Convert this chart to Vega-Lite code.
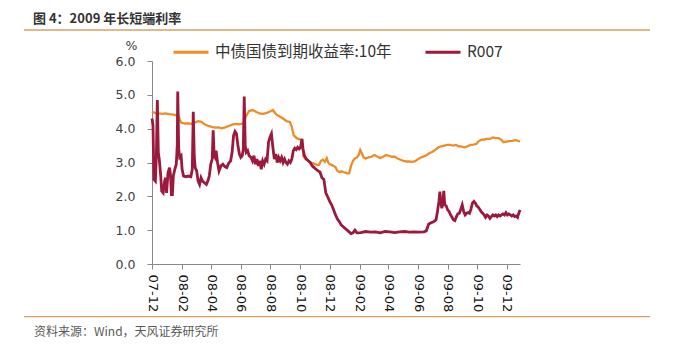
{
  "$schema": "https://vega.github.io/schema/vega-lite/v6.json",
  "width": 368,
  "height": 203,
  "autosize": {"type": "none"},
  "padding": {"left": 152, "top": 61, "right": 172, "bottom": 86},
  "background": "white",
  "title": {
    "text": "图 4：2009 年长短端利率",
    "anchor": "start",
    "frame": "group",
    "dx": -119,
    "offset": 3,
    "font": "Noto Sans CJK SC",
    "fontSize": 13,
    "fontWeight": "bold",
    "color": "#333333"
  },
  "datasets": {
    "cn10y": [
      {"date": "2007-12-01", "value": 4.50}, {"date": "2007-12-08", "value": 4.46}, {"date": "2007-12-15", "value": 4.45},
      {"date": "2007-12-22", "value": 4.44}, {"date": "2007-12-29", "value": 4.45}, {"date": "2008-01-05", "value": 4.43},
      {"date": "2008-01-12", "value": 4.42}, {"date": "2008-01-19", "value": 4.40}, {"date": "2008-01-24", "value": 4.41},
      {"date": "2008-01-27", "value": 4.28}, {"date": "2008-01-30", "value": 4.18}, {"date": "2008-02-06", "value": 4.15},
      {"date": "2008-02-13", "value": 4.16}, {"date": "2008-02-20", "value": 4.14}, {"date": "2008-02-27", "value": 4.18},
      {"date": "2008-03-05", "value": 4.22}, {"date": "2008-03-12", "value": 4.20}, {"date": "2008-03-19", "value": 4.12},
      {"date": "2008-03-26", "value": 4.08}, {"date": "2008-04-02", "value": 4.05}, {"date": "2008-04-09", "value": 4.03},
      {"date": "2008-04-16", "value": 4.04}, {"date": "2008-04-23", "value": 4.01}, {"date": "2008-04-30", "value": 4.04},
      {"date": "2008-05-07", "value": 4.08}, {"date": "2008-05-14", "value": 4.12}, {"date": "2008-05-21", "value": 4.14},
      {"date": "2008-05-28", "value": 4.13}, {"date": "2008-06-04", "value": 4.15}, {"date": "2008-06-08", "value": 4.20},
      {"date": "2008-06-11", "value": 4.35}, {"date": "2008-06-15", "value": 4.45}, {"date": "2008-06-18", "value": 4.52},
      {"date": "2008-06-25", "value": 4.55}, {"date": "2008-07-02", "value": 4.50}, {"date": "2008-07-09", "value": 4.45},
      {"date": "2008-07-16", "value": 4.44}, {"date": "2008-07-23", "value": 4.46}, {"date": "2008-07-30", "value": 4.50},
      {"date": "2008-08-06", "value": 4.55}, {"date": "2008-08-13", "value": 4.42}, {"date": "2008-08-20", "value": 4.36},
      {"date": "2008-08-27", "value": 4.30}, {"date": "2008-09-03", "value": 4.22}, {"date": "2008-09-10", "value": 4.20},
      {"date": "2008-09-14", "value": 4.05}, {"date": "2008-09-18", "value": 3.80}, {"date": "2008-09-24", "value": 3.72},
      {"date": "2008-10-01", "value": 3.68}, {"date": "2008-10-05", "value": 3.62}, {"date": "2008-10-08", "value": 3.18},
      {"date": "2008-10-12", "value": 3.10}, {"date": "2008-10-16", "value": 3.08}, {"date": "2008-10-20", "value": 3.02},
      {"date": "2008-10-24", "value": 2.98}, {"date": "2008-10-28", "value": 2.98}, {"date": "2008-11-01", "value": 2.95},
      {"date": "2008-11-05", "value": 2.93}, {"date": "2008-11-09", "value": 2.93}, {"date": "2008-11-13", "value": 3.05},
      {"date": "2008-11-17", "value": 3.08}, {"date": "2008-11-21", "value": 3.02}, {"date": "2008-11-25", "value": 3.13},
      {"date": "2008-11-28", "value": 3.00}, {"date": "2008-12-01", "value": 2.95}, {"date": "2008-12-05", "value": 2.93},
      {"date": "2008-12-09", "value": 2.90}, {"date": "2008-12-13", "value": 2.86}, {"date": "2008-12-17", "value": 2.75},
      {"date": "2008-12-21", "value": 2.72}, {"date": "2008-12-25", "value": 2.74}, {"date": "2008-12-29", "value": 2.72},
      {"date": "2009-01-02", "value": 2.70}, {"date": "2009-01-06", "value": 2.68}, {"date": "2009-01-10", "value": 2.68},
      {"date": "2009-01-14", "value": 2.90}, {"date": "2009-01-18", "value": 3.05}, {"date": "2009-01-22", "value": 3.12},
      {"date": "2009-01-26", "value": 3.15}, {"date": "2009-01-30", "value": 3.22}, {"date": "2009-02-02", "value": 3.37},
      {"date": "2009-02-05", "value": 3.28}, {"date": "2009-02-09", "value": 3.15}, {"date": "2009-02-13", "value": 3.12},
      {"date": "2009-02-19", "value": 3.15}, {"date": "2009-02-25", "value": 3.17}, {"date": "2009-03-03", "value": 3.22},
      {"date": "2009-03-09", "value": 3.18}, {"date": "2009-03-15", "value": 3.13}, {"date": "2009-03-21", "value": 3.17},
      {"date": "2009-03-27", "value": 3.22}, {"date": "2009-04-02", "value": 3.20}, {"date": "2009-04-08", "value": 3.17},
      {"date": "2009-04-14", "value": 3.17}, {"date": "2009-04-20", "value": 3.12}, {"date": "2009-04-26", "value": 3.08},
      {"date": "2009-05-02", "value": 3.05}, {"date": "2009-05-08", "value": 3.03}, {"date": "2009-05-14", "value": 3.03},
      {"date": "2009-05-20", "value": 3.02}, {"date": "2009-05-26", "value": 3.04}, {"date": "2009-06-01", "value": 3.10},
      {"date": "2009-06-07", "value": 3.15}, {"date": "2009-06-13", "value": 3.18}, {"date": "2009-06-19", "value": 3.22},
      {"date": "2009-06-25", "value": 3.28}, {"date": "2009-07-01", "value": 3.32}, {"date": "2009-07-07", "value": 3.38},
      {"date": "2009-07-13", "value": 3.45}, {"date": "2009-07-19", "value": 3.48}, {"date": "2009-07-25", "value": 3.50},
      {"date": "2009-07-31", "value": 3.52}, {"date": "2009-08-06", "value": 3.52}, {"date": "2009-08-12", "value": 3.50},
      {"date": "2009-08-18", "value": 3.52}, {"date": "2009-08-24", "value": 3.48}, {"date": "2009-08-30", "value": 3.47},
      {"date": "2009-09-05", "value": 3.45}, {"date": "2009-09-11", "value": 3.48}, {"date": "2009-09-17", "value": 3.52},
      {"date": "2009-09-23", "value": 3.53}, {"date": "2009-09-29", "value": 3.55}, {"date": "2009-10-03", "value": 3.62},
      {"date": "2009-10-09", "value": 3.67}, {"date": "2009-10-15", "value": 3.68}, {"date": "2009-10-21", "value": 3.70},
      {"date": "2009-10-27", "value": 3.70}, {"date": "2009-11-02", "value": 3.74}, {"date": "2009-11-08", "value": 3.72},
      {"date": "2009-11-14", "value": 3.72}, {"date": "2009-11-20", "value": 3.66}, {"date": "2009-11-24", "value": 3.60},
      {"date": "2009-11-30", "value": 3.62}, {"date": "2009-12-06", "value": 3.63}, {"date": "2009-12-12", "value": 3.64},
      {"date": "2009-12-18", "value": 3.66}, {"date": "2009-12-24", "value": 3.64}, {"date": "2009-12-28", "value": 3.62}
    ],
    "r007": [
      {"date": "2007-12-01", "value": 4.30}, {"date": "2007-12-03", "value": 4.10}, {"date": "2007-12-05", "value": 2.50},
      {"date": "2007-12-08", "value": 2.45}, {"date": "2007-12-10", "value": 3.20}, {"date": "2007-12-12", "value": 4.85},
      {"date": "2007-12-14", "value": 3.30}, {"date": "2007-12-16", "value": 3.10}, {"date": "2007-12-19", "value": 2.60},
      {"date": "2007-12-21", "value": 2.15}, {"date": "2007-12-24", "value": 2.10}, {"date": "2007-12-27", "value": 2.45},
      {"date": "2007-12-29", "value": 2.55}, {"date": "2007-12-31", "value": 2.10}, {"date": "2008-01-03", "value": 2.70},
      {"date": "2008-01-06", "value": 2.85}, {"date": "2008-01-08", "value": 2.65}, {"date": "2008-01-10", "value": 2.05},
      {"date": "2008-01-12", "value": 2.05}, {"date": "2008-01-14", "value": 2.60}, {"date": "2008-01-17", "value": 2.80},
      {"date": "2008-01-20", "value": 2.95}, {"date": "2008-01-22", "value": 3.50}, {"date": "2008-01-23", "value": 5.10},
      {"date": "2008-01-25", "value": 3.40}, {"date": "2008-01-27", "value": 3.15}, {"date": "2008-01-30", "value": 3.20},
      {"date": "2008-02-01", "value": 2.80}, {"date": "2008-02-04", "value": 2.60}, {"date": "2008-02-09", "value": 2.58},
      {"date": "2008-02-14", "value": 2.60}, {"date": "2008-02-19", "value": 2.58}, {"date": "2008-02-22", "value": 2.80},
      {"date": "2008-02-24", "value": 4.50}, {"date": "2008-02-26", "value": 3.20}, {"date": "2008-02-28", "value": 2.85},
      {"date": "2008-03-02", "value": 2.75}, {"date": "2008-03-05", "value": 2.45}, {"date": "2008-03-08", "value": 2.35},
      {"date": "2008-03-11", "value": 2.55}, {"date": "2008-03-14", "value": 2.45}, {"date": "2008-03-18", "value": 2.40},
      {"date": "2008-03-22", "value": 2.35}, {"date": "2008-03-25", "value": 2.45}, {"date": "2008-03-28", "value": 2.60},
      {"date": "2008-03-31", "value": 2.95}, {"date": "2008-04-03", "value": 3.10}, {"date": "2008-04-05", "value": 3.95},
      {"date": "2008-04-07", "value": 3.20}, {"date": "2008-04-09", "value": 3.15}, {"date": "2008-04-11", "value": 3.35},
      {"date": "2008-04-14", "value": 3.00}, {"date": "2008-04-17", "value": 2.75}, {"date": "2008-04-21", "value": 2.90},
      {"date": "2008-04-25", "value": 2.95}, {"date": "2008-04-29", "value": 2.88}, {"date": "2008-05-03", "value": 2.85},
      {"date": "2008-05-07", "value": 2.98}, {"date": "2008-05-11", "value": 3.05}, {"date": "2008-05-14", "value": 3.30},
      {"date": "2008-05-17", "value": 3.80}, {"date": "2008-05-20", "value": 3.92}, {"date": "2008-05-23", "value": 3.85},
      {"date": "2008-05-26", "value": 3.50}, {"date": "2008-05-29", "value": 3.25}, {"date": "2008-06-01", "value": 3.15},
      {"date": "2008-06-04", "value": 3.20}, {"date": "2008-06-06", "value": 3.40}, {"date": "2008-06-08", "value": 4.95},
      {"date": "2008-06-10", "value": 3.50}, {"date": "2008-06-12", "value": 3.30}, {"date": "2008-06-15", "value": 3.35},
      {"date": "2008-06-18", "value": 3.20}, {"date": "2008-06-22", "value": 3.15}, {"date": "2008-06-25", "value": 3.05},
      {"date": "2008-06-28", "value": 3.20}, {"date": "2008-07-01", "value": 2.95}, {"date": "2008-07-04", "value": 3.10},
      {"date": "2008-07-07", "value": 2.90}, {"date": "2008-07-10", "value": 3.05}, {"date": "2008-07-13", "value": 2.80},
      {"date": "2008-07-16", "value": 3.05}, {"date": "2008-07-19", "value": 2.95}, {"date": "2008-07-22", "value": 3.10},
      {"date": "2008-07-25", "value": 3.05}, {"date": "2008-07-28", "value": 3.60}, {"date": "2008-07-31", "value": 3.75},
      {"date": "2008-08-03", "value": 3.85}, {"date": "2008-08-06", "value": 3.45}, {"date": "2008-08-09", "value": 3.10},
      {"date": "2008-08-12", "value": 3.25}, {"date": "2008-08-15", "value": 3.00}, {"date": "2008-08-18", "value": 3.15},
      {"date": "2008-08-21", "value": 3.05}, {"date": "2008-08-24", "value": 3.15}, {"date": "2008-08-27", "value": 3.00},
      {"date": "2008-08-30", "value": 3.10}, {"date": "2008-09-02", "value": 3.00}, {"date": "2008-09-05", "value": 2.95},
      {"date": "2008-09-08", "value": 3.05}, {"date": "2008-09-11", "value": 3.00}, {"date": "2008-09-14", "value": 3.10},
      {"date": "2008-09-17", "value": 3.35}, {"date": "2008-09-20", "value": 3.42}, {"date": "2008-09-23", "value": 3.38},
      {"date": "2008-09-26", "value": 3.45}, {"date": "2008-09-29", "value": 3.40}, {"date": "2008-10-02", "value": 3.45},
      {"date": "2008-10-05", "value": 3.70}, {"date": "2008-10-07", "value": 3.40}, {"date": "2008-10-10", "value": 3.20},
      {"date": "2008-10-14", "value": 3.10}, {"date": "2008-10-18", "value": 3.05}, {"date": "2008-10-22", "value": 3.00},
      {"date": "2008-10-26", "value": 2.90}, {"date": "2008-10-30", "value": 2.85}, {"date": "2008-11-03", "value": 2.80},
      {"date": "2008-11-07", "value": 2.75}, {"date": "2008-11-11", "value": 2.72}, {"date": "2008-11-15", "value": 2.55},
      {"date": "2008-11-19", "value": 2.50}, {"date": "2008-11-23", "value": 2.10}, {"date": "2008-11-27", "value": 1.98},
      {"date": "2008-12-01", "value": 1.85}, {"date": "2008-12-05", "value": 1.75}, {"date": "2008-12-09", "value": 1.60},
      {"date": "2008-12-13", "value": 1.45}, {"date": "2008-12-17", "value": 1.33}, {"date": "2008-12-21", "value": 1.25},
      {"date": "2008-12-25", "value": 1.15}, {"date": "2008-12-29", "value": 1.10}, {"date": "2009-01-02", "value": 1.05},
      {"date": "2009-01-06", "value": 1.00}, {"date": "2009-01-10", "value": 0.95}, {"date": "2009-01-14", "value": 0.90},
      {"date": "2009-01-18", "value": 0.92}, {"date": "2009-01-22", "value": 1.00}, {"date": "2009-01-26", "value": 0.92},
      {"date": "2009-02-03", "value": 0.93}, {"date": "2009-02-13", "value": 0.96}, {"date": "2009-02-23", "value": 0.94},
      {"date": "2009-03-05", "value": 0.95}, {"date": "2009-03-15", "value": 0.92}, {"date": "2009-03-25", "value": 0.96},
      {"date": "2009-04-04", "value": 0.95}, {"date": "2009-04-14", "value": 0.93}, {"date": "2009-04-24", "value": 0.95},
      {"date": "2009-05-04", "value": 0.96}, {"date": "2009-05-14", "value": 0.94}, {"date": "2009-05-24", "value": 0.95},
      {"date": "2009-06-03", "value": 0.94}, {"date": "2009-06-13", "value": 0.95}, {"date": "2009-06-18", "value": 0.98},
      {"date": "2009-06-23", "value": 1.18}, {"date": "2009-06-28", "value": 1.22}, {"date": "2009-07-03", "value": 1.25},
      {"date": "2009-07-08", "value": 1.30}, {"date": "2009-07-11", "value": 1.55}, {"date": "2009-07-14", "value": 1.85},
      {"date": "2009-07-16", "value": 2.14}, {"date": "2009-07-18", "value": 1.80}, {"date": "2009-07-20", "value": 1.65},
      {"date": "2009-07-22", "value": 1.80}, {"date": "2009-07-24", "value": 2.16}, {"date": "2009-07-26", "value": 1.75},
      {"date": "2009-07-29", "value": 1.72}, {"date": "2009-08-01", "value": 1.60}, {"date": "2009-08-04", "value": 1.55},
      {"date": "2009-08-07", "value": 1.45}, {"date": "2009-08-10", "value": 1.38}, {"date": "2009-08-13", "value": 1.30},
      {"date": "2009-08-16", "value": 1.28}, {"date": "2009-08-19", "value": 1.40}, {"date": "2009-08-22", "value": 1.48},
      {"date": "2009-08-25", "value": 1.50}, {"date": "2009-08-28", "value": 1.62}, {"date": "2009-08-31", "value": 1.75},
      {"date": "2009-09-03", "value": 1.55}, {"date": "2009-09-06", "value": 1.45}, {"date": "2009-09-09", "value": 1.50},
      {"date": "2009-09-12", "value": 1.52}, {"date": "2009-09-15", "value": 1.50}, {"date": "2009-09-18", "value": 1.62},
      {"date": "2009-09-21", "value": 1.80}, {"date": "2009-09-24", "value": 1.85}, {"date": "2009-09-27", "value": 1.80},
      {"date": "2009-09-30", "value": 1.72}, {"date": "2009-10-03", "value": 1.68}, {"date": "2009-10-06", "value": 1.62},
      {"date": "2009-10-09", "value": 1.55}, {"date": "2009-10-12", "value": 1.50}, {"date": "2009-10-15", "value": 1.45},
      {"date": "2009-10-18", "value": 1.38}, {"date": "2009-10-21", "value": 1.45}, {"date": "2009-10-24", "value": 1.42},
      {"date": "2009-10-27", "value": 1.35}, {"date": "2009-10-30", "value": 1.40}, {"date": "2009-11-02", "value": 1.45},
      {"date": "2009-11-05", "value": 1.42}, {"date": "2009-11-08", "value": 1.45}, {"date": "2009-11-11", "value": 1.40},
      {"date": "2009-11-14", "value": 1.45}, {"date": "2009-11-17", "value": 1.42}, {"date": "2009-11-20", "value": 1.45},
      {"date": "2009-11-23", "value": 1.48}, {"date": "2009-11-26", "value": 1.45}, {"date": "2009-11-29", "value": 1.52},
      {"date": "2009-12-02", "value": 1.45}, {"date": "2009-12-05", "value": 1.48}, {"date": "2009-12-08", "value": 1.45},
      {"date": "2009-12-11", "value": 1.42}, {"date": "2009-12-14", "value": 1.45}, {"date": "2009-12-17", "value": 1.40},
      {"date": "2009-12-20", "value": 1.42}, {"date": "2009-12-23", "value": 1.38}, {"date": "2009-12-25", "value": 1.48},
      {"date": "2009-12-28", "value": 1.60}
    ]
  },
  "encoding": {
    "x": {
      "field": "date",
      "type": "temporal",
      "scale": {
        "type": "utc",
        "domain": [
          {"year": 2007, "month": 12, "date": 1, "utc": true},
          {"year": 2009, "month": 12, "date": 28, "utc": true}
        ]
      },
      "axis": {
        "values": [
          {"year": 2007, "month": 12, "date": 1, "utc": true},
          {"year": 2008, "month": 2, "date": 1, "utc": true},
          {"year": 2008, "month": 4, "date": 1, "utc": true},
          {"year": 2008, "month": 6, "date": 1, "utc": true},
          {"year": 2008, "month": 8, "date": 1, "utc": true},
          {"year": 2008, "month": 10, "date": 1, "utc": true},
          {"year": 2008, "month": 12, "date": 1, "utc": true},
          {"year": 2009, "month": 2, "date": 1, "utc": true},
          {"year": 2009, "month": 4, "date": 1, "utc": true},
          {"year": 2009, "month": 6, "date": 1, "utc": true},
          {"year": 2009, "month": 8, "date": 1, "utc": true},
          {"year": 2009, "month": 10, "date": 1, "utc": true},
          {"year": 2009, "month": 12, "date": 1, "utc": true}
        ],
        "labelExpr": "utcFormat(datum.value, '%y-%m')",
        "labelAngle": 90,
        "labelAlign": "left",
        "labelBaseline": "middle",
        "labelPadding": 5,
        "labelFont": "DejaVu Sans",
        "labelFontSize": 13,
        "labelColor": "#111111",
        "labelOverlap": false,
        "labelFlush": false,
        "tickSize": 5,
        "tickColor": "#888888",
        "domainColor": "#888888",
        "grid": false,
        "title": "资料来源：Wind，天风证券研究所",
        "titleFont": "Noto Sans CJK SC",
        "titleFontSize": 12,
        "titleFontWeight": "normal",
        "titleColor": "#595959",
        "titleAlign": "left",
        "titleBaseline": "middle",
        "titleAnchor": "start",
        "titleX": -118.5,
        "titleY": 67.5
      }
    },
    "y": {
      "field": "value",
      "type": "quantitative",
      "scale": {"domain": [0, 6], "nice": false},
      "axis": {
        "values": [0, 1, 2, 3, 4, 5, 6],
        "format": ".1f",
        "labelFont": "DejaVu Sans",
        "labelFontSize": 12.5,
        "labelColor": "#404040",
        "labelPadding": 12,
        "tickSize": 5,
        "tickColor": "#888888",
        "domainColor": "#888888",
        "grid": false,
        "title": "%",
        "titleAngle": 0,
        "titleFont": "DejaVu Sans",
        "titleFontSize": 12.5,
        "titleFontWeight": "normal",
        "titleColor": "#404040",
        "titleAlign": "center",
        "titleBaseline": "middle",
        "titleX": -21,
        "titleY": -15.5
      }
    },
    "color": {
      "scale": {
        "domain": ["中债国债到期收益率:10年", "R007"],
        "range": ["#F08C28", "#9B193C"]
      },
      "legend": {
        "orient": "none",
        "legendX": 20,
        "legendY": -28,
        "direction": "horizontal",
        "title": null,
        "padding": 0,
        "symbolType": "stroke",
        "symbolSize": 1225,
        "symbolStrokeWidth": 3,
        "labelFont": "Noto Sans CJK SC",
        "labelFontSize": 15.5,
        "labelColor": "#333333",
        "labelOffset": 5,
        "columnPadding": 27,
        "labelLimit": 400
      }
    }
  },
  "layer": [
    {
      "data": {"name": "cn10y"},
      "mark": {"type": "line", "strokeWidth": 2.3},
      "encoding": {"color": {"datum": "中债国债到期收益率:10年"}}
    },
    {
      "data": {"name": "r007"},
      "mark": {"type": "line", "strokeWidth": 2.8},
      "encoding": {"color": {"datum": "R007"}}
    },
    {
      "data": {"values": [{"edge": "top"}]},
      "mark": {"type": "rule", "color": "#D9A15F", "strokeWidth": 1.3},
      "encoding": {"x": {"value": -128}, "x2": {"value": 498}, "y": {"value": -31}, "color": null}
    },
    {
      "data": {"values": [{"edge": "bottom"}]},
      "mark": {"type": "rule", "color": "#D9A15F", "strokeWidth": 1.3},
      "encoding": {"x": {"value": -128}, "x2": {"value": 498}, "y": {"value": 255.7}, "color": null}
    }
  ],
  "config": {
    "view": {"stroke": null}
  }
}
